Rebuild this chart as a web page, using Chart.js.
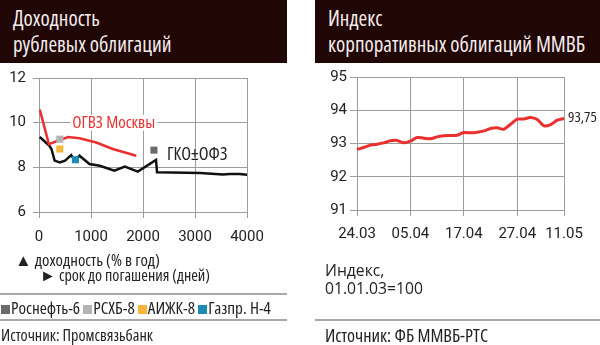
<!DOCTYPE html>
<html>
<head>
<meta charset="utf-8">
<script src="https://cdn.jsdelivr.net/npm/chart.js@4.4.1/dist/chart.umd.min.js"></script>
<style>
    body { margin: 0; width: 600px; height: 345px; background: #fff; position: relative; overflow: hidden;
           font-family: 'Open Sans', sans-serif; color: #222; }
    .head { position: absolute; top: 0; height: 63px; background: #210606; color: #f4ecec; font-stretch: condensed;
            font-size: 21px; line-height: 26px; padding: 5px 0 0 13px; box-sizing: border-box; }
    .txt { position: absolute; white-space: nowrap; font-size: 16px; line-height: 18px; }
    .rule { position: absolute; height: 0; border-top: 2px solid #a8a8a8; }
    canvas { position: absolute; top: 62px; }
    .sq { display: inline-block; width: 9px; height: 9px; margin-right: 1px; }
</style>
</head>
<body>
<div class="head" style="left:0;width:287px">Доходность<br>рублевых облигаций</div>
<div class="head" style="left:315px;width:285px">Индекс<br>корпоративных облигаций ММВБ</div>

<canvas id="yieldChart" width="290" height="190" style="left:0"></canvas>
<canvas id="indexChart" width="300" height="190" style="left:300px"></canvas>

<!-- data-w: width of the line in the reference layout -->
<div class="txt" data-w="145" style="left:15px;top:251px">▲ доходность (% в год)</div>
<div class="txt" data-w="170" style="left:40px;top:266px">► срок до погашения (дней)</div>
<div class="rule" style="left:0;width:287px;top:293px"></div>
<div class="txt" data-w="273" id="legend" style="left:1px;top:299px"></div>
<div class="rule" style="left:0;width:287px;top:319px"></div>
<div class="txt" data-w="152" style="left:1px;top:326px">Источник: Промсвязьбанк</div>

<div class="txt" data-w="98" style="left:325px;top:261px">Индекс,<br>01.01.03=100</div>
<div class="rule" style="left:315px;width:285px;top:319px"></div>
<div class="txt" data-w="163" style="left:325px;top:326px">Источник: ФБ ММВБ-РТС</div>

<script>
// --- left chart: yield curves (days to maturity -> % per year)
var gkoDays  = [15, 200, 240, 300, 400, 500, 620, 690, 780, 970, 1170, 1450, 1650, 1900, 2250, 2270, 3100, 3540, 3670, 3860, 4020];
var gkoYield = [9.36, 8.96, 8.82, 8.30, 8.22, 8.30, 8.55, 8.30, 8.52, 8.15, 8.07, 7.85, 8.03, 7.81, 8.33, 7.78, 7.75, 7.68, 7.70, 7.70, 7.66];
var mosDays  = [15, 190, 365, 560, 780, 1100, 1420, 1870];
var mosYield = [10.59, 9.04, 9.19, 9.36, 9.30, 9.11, 8.82, 8.52];

var bondNames  = ['Роснефть-6', 'РСХБ-8', 'АИЖК-8', 'Газпр. Н-4'];
var bondDays   = [2210, 400, 400, 700];
var bondYield  = [8.77, 9.26, 8.82, 8.34];
var bondColors = ['#6b6b6b', '#b3b3b3', '#f7b53a', '#1c8ab2'];

var yieldTicksX = [0, 1000, 2000, 3000, 4000];
var yieldTicksY = [6, 8, 10, 12];

// --- right chart: MICEX corporate bond index
var tradeDates = ['24.03', '27.03', '28.03', '29.03', '30.03', '31.03', '03.04', '04.04', '05.04', '06.04',
                  '07.04', '10.04', '11.04', '12.04', '13.04', '14.04', '17.04', '18.04', '19.04', '20.04',
                  '21.04', '24.04', '25.04', '26.04', '27.04', '28.04', '02.05', '03.05', '04.05', '05.05',
                  '10.05', '11.05'];
var indexValues = [92.82, 92.88, 92.95, 92.98, 93.02, 93.08, 93.09, 93.02, 93.07, 93.18,
                   93.16, 93.14, 93.20, 93.23, 93.24, 93.25, 93.33, 93.32, 93.34, 93.38,
                   93.45, 93.47, 93.43, 93.58, 93.73, 93.74, 93.78, 93.72, 93.53, 93.57,
                   93.70, 93.75];
var indexTickLabels = ['24.03', '05.04', '17.04', '27.04', '11.05'];
var indexTicksY = [91, 92, 93, 94, 95];

var LABEL_FONT = "'Open Sans', sans-serif";
var GRID = '#9c9c9c';
Chart.defaults.font.family = "Roboto, sans-serif";
Chart.defaults.font.size = 15;
Chart.defaults.color = '#222';

function pairs(xs, ys) {
    return xs.map(function(x, i) { return {x: x, y: ys[i]}; });
}

// free text anchored at data coordinates (condensed face, like the headings)
var textLabels = {
    id: 'textLabels',
    afterDatasetsDraw: function(chart, args, opts) {
        var ctx = chart.ctx;
        (opts.items || []).forEach(function(it) {
            var xs = chart.scales.x, ys = chart.scales.y;
            var px = (typeof it.x === 'number' ? xs.getPixelForValue(it.x) : xs.getPixelForValue(tradeDates.indexOf(it.x))) + (it.dx || 0);
            var py = ys.getPixelForValue(it.y);
            ctx.save();
            ctx.font = 'normal condensed ' + it.size + 'px ' + LABEL_FONT;
            ctx.textBaseline = 'middle';
            ctx.textAlign = 'left';
            if (it.bg) {
                var w = ctx.measureText(it.text).width;
                ctx.fillStyle = it.bg;
                ctx.fillRect(px - 2, py - 8, w + 4, 16);
            }
            ctx.fillStyle = it.color;
            ctx.fillText(it.text, px, py);
            ctx.restore();
        });
    }
};

var bondSets = bondNames.map(function(name, i) {
    return {
        label: name, data: [{x: bondDays[i], y: bondYield[i]}],
        pointStyle: 'rect', pointRadius: 5, pointBorderWidth: 0, order: 1,
        backgroundColor: bondColors[i], borderColor: bondColors[i], showLine: false
    };
});

new Chart(document.getElementById('yieldChart'), {
    type: 'scatter',
    data: {
        datasets: [
            {label: 'ГКО-ОФЗ', data: pairs(gkoDays, gkoYield), showLine: true, borderColor: '#111',
             borderWidth: 2.5, pointRadius: 0, order: 3},
            {label: 'ОГВЗ Москвы', data: pairs(mosDays, mosYield), showLine: true, borderColor: '#ec2f2f',
             borderWidth: 2.5, pointRadius: 0, order: 2}
        ].concat(bondSets)
    },
    options: {
        responsive: false, animation: false,
        layout: {padding: {left: 0, top: 15, right: 43, bottom: 0}},
        plugins: {
            legend: {display: false}, tooltip: {enabled: false},
            textLabels: {items: [
                {text: 'ОГВЗ Москвы', x: 640, y: 10.0, color: '#ec2f2f', bg: '#fff', size: 17},
                {text: 'ГКО±ОФЗ', x: 2460, y: 8.58, color: '#222', size: 18}
            ]}
        },
        scales: {
            x: {
                type: 'linear', min: 0, max: 4000,
                afterBuildTicks: function(s) { s.ticks = yieldTicksX.map(function(v) { return {value: v}; }); },
                ticks: {padding: 10, maxRotation: 0, callback: function(v) { return String(v); }},
                grid: {color: GRID, tickLength: 6},
                border: {color: GRID},
                afterFit: function(s) { s.height = 40; }
            },
            y: {
                min: 6, max: 12,
                afterBuildTicks: function(s) { s.ticks = yieldTicksY.map(function(v) { return {value: v}; }); },
                ticks: {padding: 7, callback: function(v) { return String(v); }},
                grid: {color: GRID, tickLength: 6},
                border: {color: GRID},
                afterFit: function(s) { s.width = 39; }
            }
        }
    },
    plugins: [textLabels]
});

new Chart(document.getElementById('indexChart'), {
    type: 'line',
    data: {
        labels: tradeDates,
        datasets: [{data: indexValues, borderColor: '#ec2f2f', borderWidth: 3, pointRadius: 0, tension: 0.3}]
    },
    options: {
        responsive: false, animation: false,
        layout: {padding: {left: 0, top: 15, right: 36, bottom: 0}},
        plugins: {
            legend: {display: false}, tooltip: {enabled: false},
            textLabels: {items: [
                {text: '93,75', x: '11.05', dx: 4, y: 93.77, color: '#222', size: 15}
            ]}
        },
        scales: {
            x: {
                ticks: {
                    autoSkip: false, maxRotation: 0, padding: 9,
                    callback: function(v, i) { return indexTickLabels.indexOf(tradeDates[i]) >= 0 ? tradeDates[i] : ''; }
                },
                grid: {
                    tickLength: 6,
                    color: function(c) { return indexTickLabels.indexOf(tradeDates[c.index]) >= 0 ? GRID : 'rgba(0,0,0,0)'; }
                },
                border: {color: GRID},
                afterFit: function(s) { s.height = 42; }
            },
            y: {
                min: 91, max: 95,
                afterBuildTicks: function(s) { s.ticks = indexTicksY.map(function(v) { return {value: v}; }); },
                ticks: {padding: 3, callback: function(v) { return String(v); }},
                grid: {color: GRID, tickLength: 7},
                border: {color: GRID},
                afterFit: function(s) { s.width = 57; }
            }
        }
    },
    plugins: [textLabels]
});

// legend row under the left chart
var legend = document.getElementById('legend');
legend.innerHTML = bondNames.map(function(name, i) {
    return '<span class="sq" style="background:' + bondColors[i] + '"></span>' + name;
}).join(' ');

// fit each caption to its reference width: pick the normal or condensed face,
// whichever needs a size closest to 16px, then scale the size to the width
document.querySelectorAll('.txt[data-w]').forEach(function(el) {
    var target = +el.getAttribute('data-w');
    el.style.fontSize = '16px';
    el.style.fontStretch = '100%';
    var wNormal = el.getBoundingClientRect().width;
    el.style.fontStretch = '75%';
    var wCond = el.getBoundingClientRect().width;
    var sNormal = 16 * target / wNormal, sCond = 16 * target / wCond;
    if (Math.abs(sNormal - 16) < Math.abs(sCond - 16)) {
        el.style.fontStretch = '100%';
        el.style.fontSize = sNormal.toFixed(2) + 'px';
    } else {
        el.style.fontSize = sCond.toFixed(2) + 'px';
    }
});
</script>
</body>
</html>
